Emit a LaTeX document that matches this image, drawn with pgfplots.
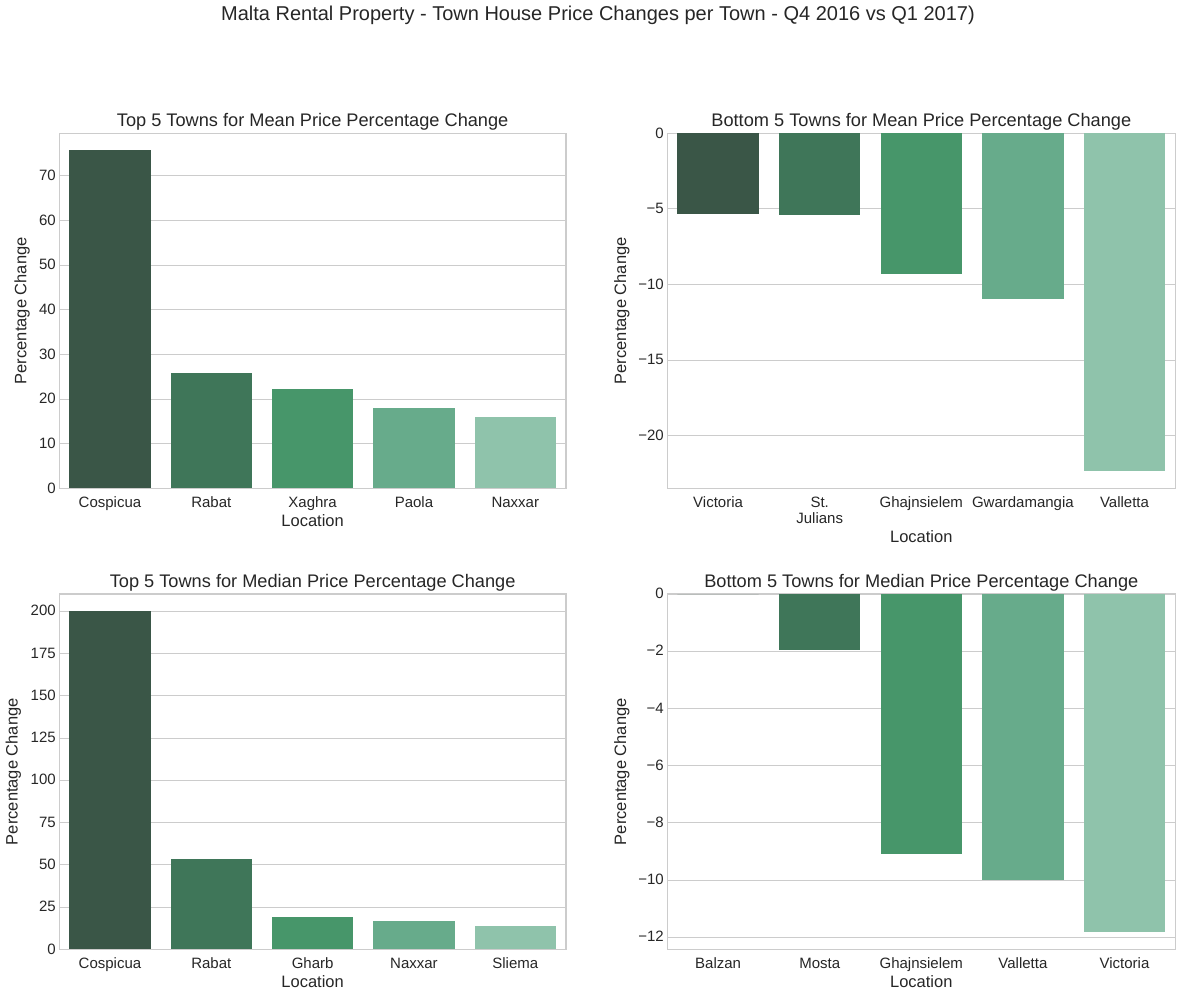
\documentclass[border=0pt]{standalone}
\usepackage{pgfplots}
\pgfplotsset{compat=1.18}
\usepackage{fontspec}
\setmainfont{Liberation Sans}
\definecolor{cA}{HTML}{3A5647}
\definecolor{cB}{HTML}{3F7659}
\definecolor{cC}{HTML}{47966A}
\definecolor{cD}{HTML}{67AB8B}
\definecolor{cE}{HTML}{8FC3AB}
\definecolor{gridc}{HTML}{CCCCCC}
\definecolor{txt}{HTML}{262626}
\pgfplotsset{
  myax/.style={
    scale only axis, anchor=south west,
    ybar, bar width=0.8, bar shift=0pt,
    xmin=-0.5, xmax=4.5, xtick={0,1,2,3,4},
    axis line style={draw=gridc, line width=1.1pt},
    ymajorgrids, grid style={draw=gridc, line width=1pt},
    major tick length=0pt, tick style={draw=none},
    ticklabel style={font=\fontsize{15}{16}\selectfont, text=txt},
    xticklabel style={align=center, yshift=-4.5pt},
    yticklabel style={yshift=-1.5pt},
    typeset ticklabels with strut,
    title style={font=\fontsize{18.2}{20}\selectfont, text=txt, at={(axis description cs:0.5,1)}, anchor=base, yshift=1pt},
    every axis y label/.style={rotate=90, anchor=center, font=\fontsize{16.5}{18}\selectfont, text=txt},
    every axis x label/.style={anchor=center, font=\fontsize{16.5}{18}\selectfont, text=txt},
    /pgf/number format/assume math mode=true,
    xlabel={Location}, ylabel={Percentage Change},
  },
  b1/.style={fill=cA, draw=none},
  b2/.style={fill=cB, draw=none},
  b3/.style={fill=cC, draw=none},
  b4/.style={fill=cD, draw=none},
  b5/.style={fill=cE, draw=none},
}
\begin{document}
\begin{tikzpicture}
\path[use as bounding box] (0,0) rectangle (1181pt,-996pt);
\node[font=\fontsize{20}{24}\selectfont, text=txt] at (598pt,-15pt) {Malta Rental Property - Town House Price Changes per Town - Q4 2016 vs Q1 2017)};

% Top left
\begin{axis}[myax, at={(59.3pt,-488.3pt)}, width=506.7pt, height=355pt,
  ymin=0, ymax=79.54, ytick={0,10,20,30,40,50,60,70},
  yticklabels={0,10,20,30,40,50,60,70},
  xticklabels={Cospicua,Rabat,Xaghra,Paola,Naxxar},
  title={Top 5 Towns for Mean Price Percentage Change},
  xlabel style={at={(axis description cs:0.5,-0.0901)}},
  ylabel style={at={(axis description cs:-0.0736,0.5)}}]
\addplot[b1] coordinates {(0,75.75)};
\addplot[b2] coordinates {(1,25.8)};
\addplot[b3] coordinates {(2,22.3)};
\addplot[b4] coordinates {(3,18.05)};
\addplot[b5] coordinates {(4,16.0)};
\end{axis}

% Top right
\begin{axis}[myax, at={(667.3pt,-488.3pt)}, width=508pt, height=355pt,
  ymin=-23.47, ymax=0, ytick={-20,-15,-10,-5,0},
  yticklabels={−20,−15,−10,−5,0},
  xticklabels={Victoria,{St.\\Julians},Ghajnsielem,Gwardamangia,Valletta},
  title={Bottom 5 Towns for Mean Price Percentage Change},
  xlabel style={at={(axis description cs:0.5,-0.1363)}},
  ylabel style={at={(axis description cs:-0.0896,0.5)}}]
\addplot[b1] coordinates {(0,-5.31)};
\addplot[b2] coordinates {(1,-5.38)};
\addplot[b3] coordinates {(2,-9.29)};
\addplot[b4] coordinates {(3,-10.95)};
\addplot[b5] coordinates {(4,-22.35)};
\end{axis}

% Bottom left
\begin{axis}[myax, at={(59.3pt,-949.3pt)}, width=506.7pt, height=355.3pt,
  ymin=0, ymax=210.2, ytick={0,25,50,75,100,125,150,175,200},
  yticklabels={0,25,50,75,100,125,150,175,200},
  xticklabels={Cospicua,Rabat,Gharb,Naxxar,Sliema},
  title={Top 5 Towns for Median Price Percentage Change},
  xlabel style={at={(axis description cs:0.5,-0.0913)}},
  ylabel style={at={(axis description cs:-0.0908,0.5)}}]
\addplot[b1] coordinates {(0,200.2)};
\addplot[b2] coordinates {(1,53.45)};
\addplot[b3] coordinates {(2,19.1)};
\addplot[b4] coordinates {(3,16.8)};
\addplot[b5] coordinates {(4,13.8)};
\end{axis}

% Bottom right
\begin{axis}[myax, at={(667.3pt,-949.3pt)}, width=508pt, height=355.3pt,
  ymin=-12.42, ymax=0, ytick={-12,-10,-8,-6,-4,-2,0},
  yticklabels={−12,−10,−8,−6,−4,−2,0},
  xticklabels={Balzan,Mosta,Ghajnsielem,Valletta,Victoria},
  title={Bottom 5 Towns for Median Price Percentage Change},
  xlabel style={at={(axis description cs:0.5,-0.0913)}},
  ylabel style={at={(axis description cs:-0.0896,0.5)}}]
\addplot[b1] coordinates {(0,0)};
\addplot[b2] coordinates {(1,-1.94)};
\addplot[b3] coordinates {(2,-9.08)};
\addplot[b4] coordinates {(3,-10.0)};
\addplot[b5] coordinates {(4,-11.83)};
\end{axis}
\end{tikzpicture}
\end{document}
